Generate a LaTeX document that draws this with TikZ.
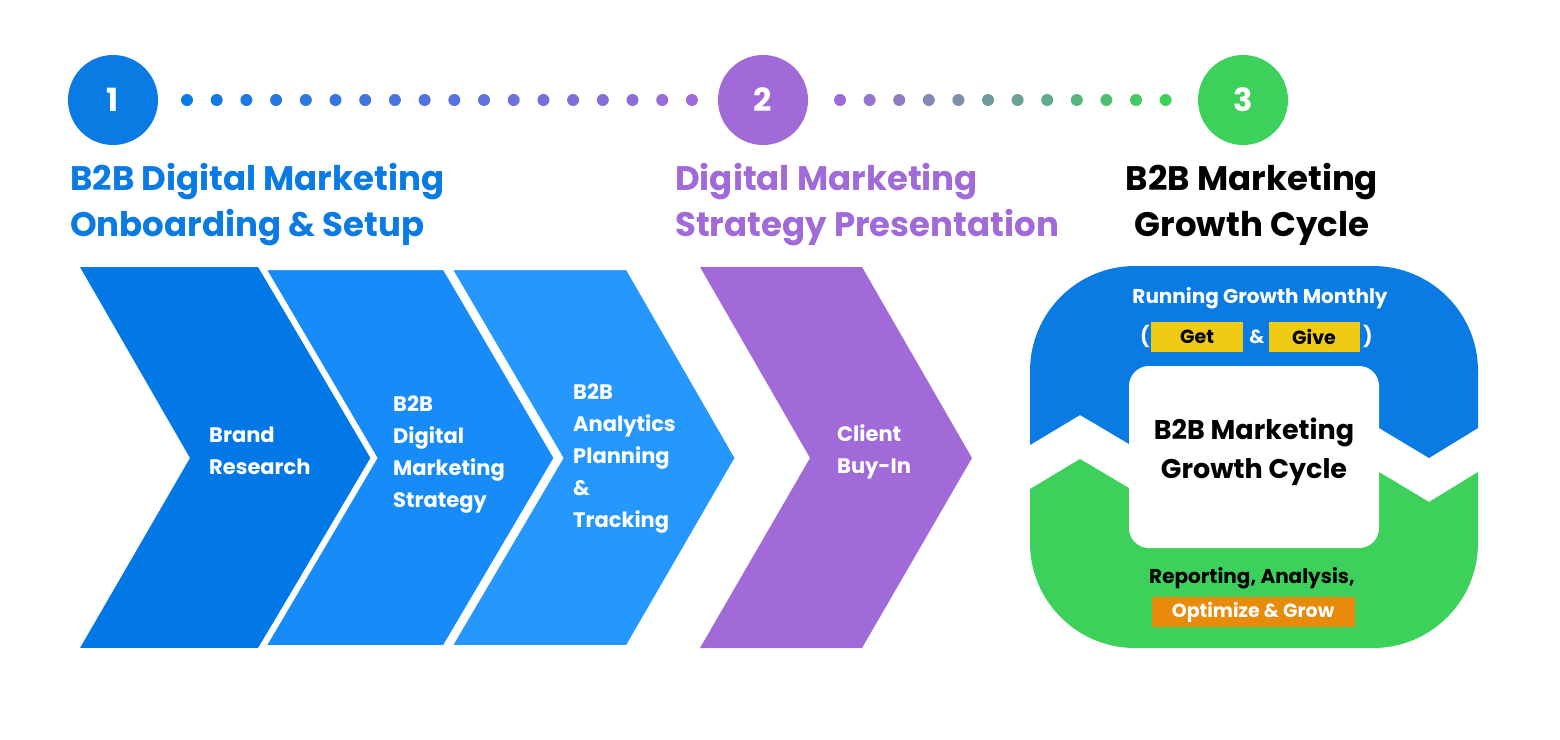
\documentclass[tikz,border=0pt]{standalone}
\usepackage{fontspec}
\setmainfont{Poppins}
\definecolor{cblue}{HTML}{0A7BE3}
\definecolor{ch1}{HTML}{0277E6}
\definecolor{ch2}{HTML}{178CF8}
\definecolor{ch3}{HTML}{2597FD}
\definecolor{cpur}{HTML}{A06BD9}
\definecolor{cgreen}{HTML}{3DD15B}
\definecolor{cyel}{HTML}{F0CB15}
\definecolor{corg}{HTML}{E88A0A}
\tikzset{
 num/.style={circle,minimum size=90pt,inner sep=0pt,text=white,font=\bfseries\fontsize{32}{32}\selectfont},
 title/.style={anchor=north west,align=left,inner sep=0pt,font=\bfseries\fontsize{34}{46}\selectfont},
 ctext/.style={anchor=west,align=left,inner sep=0pt,text=white,font=\bfseries\fontsize{21}{32}\selectfont},
 chev/.style={draw=white,line width=6pt,line join=miter},
 tag/.style={inner sep=0pt,minimum height=30pt,font=\bfseries\fontsize{19}{19}\selectfont}
}
\begin{document}
\begin{tikzpicture}[x=1pt,y=-1pt]
\useasboundingbox[fill=white] (0,0) rectangle (1560,739);
% dots
\foreach \i in {0,...,17}{
  \pgfmathsetmacro{\p}{100*\i/17}
  \fill[cblue!\fpeval{100-\p}!cpur] (187+29.7*\i,100) circle (6);
}
\foreach \i in {0,...,11}{
  \pgfmathsetmacro{\p}{100*\i/11}
  \fill[cpur!\fpeval{100-\p}!cgreen] (840+29.6*\i,100) circle (6);
}
\node[num,fill=cblue] (n1) at (113,100) {1};
\node[num,fill=cpur] (n2) at (763,100) {2};
\node[num,fill=cgreen] (n3) at (1243,100) {3};
\node[title,text=cblue] (t1) at (70,163) {B2B Digital Marketing\\Onboarding \& Setup};
\node[title,text=cpur] (t2) at (675,163) {Digital Marketing\\Strategy Presentation};
\node[title,text=black,align=center,anchor=north] (t3) at (1252,163) {B2B Marketing\\Growth Cycle};
% chevrons
\fill[ch1] (80,267) -- (190,458) -- (80,648) -- (258,648) -- (372,458) -- (258,267) -- cycle;
\filldraw[ch2,chev] (262,267) -- (374,458) -- (262,648) -- (445,648) -- (557,458) -- (445,267) -- cycle;
\filldraw[ch3,chev] (448,267) -- (560,458) -- (448,648) -- (628,648) -- (738,458) -- (628,267) -- cycle;
\fill[white] (75,262) rectangle (80,655);
\fill[white] (75,262) rectangle (745,267);
\fill[white] (75,648) rectangle (745,655);
\fill[cpur] (700,267) -- (810,458) -- (700,648) -- (862,648) -- (972,458) -- (862,267) -- cycle;
\node[ctext] (c1) at (209,451) {Brand\\Research};
\node[ctext] (c2) at (393,455) {B2B\\Digital\\Marketing\\Strategy};
\node[ctext] (c3) at (573,459) {B2B\\Analytics\\Planning\\\&\\Tracking};
\node[ctext] (c4) at (837,452) {Client\\Buy-In};
% growth cycle
\fill[cblue,rounded corners=105pt] (1030,445) -- (1030,266) -- (1478,266) [sharp corners] -- (1478,428) -- (1429,458) -- (1379,428) -- (1129,444) -- (1080,415) -- cycle;
\fill[cgreen,rounded corners=105pt] (1478,472) -- (1478,648) -- (1030,648) [sharp corners] -- (1030,489) -- (1080,459) -- (1129,488) -- (1379,472) -- (1429,502) -- cycle;
\node[fill=white,rounded corners=20pt,minimum width=250pt,minimum height=182pt] (box) at (1254,457) {};
\node[align=center,font=\bfseries\fontsize{27}{39}\selectfont] (bt) at (1254,452) {B2B Marketing\\Growth Cycle};
\node[text=white,font=\bfseries\fontsize{20}{20}\selectfont] (rg) at (1260,298) {Running Growth Monthly};
\node[tag,fill=cyel,minimum width=92pt] (get) at (1197,337) {Get};
\node[tag,fill=cyel,minimum width=91pt] (give) at (1314,337) {Give};
\node[text=white,font=\bfseries\fontsize{19}{19}\selectfont] (amp) at (1257,337) {\&};
\node[text=white,font=\bfseries\fontsize{20}{20}\selectfont] (lp) at (1145,336) {(};
\node[text=white,font=\bfseries\fontsize{20}{20}\selectfont] (rp) at (1368,336) {)};
\node[font=\bfseries\fontsize{20}{20}\selectfont] (rep) at (1252,578) {Reporting, Analysis,};
\node[tag,fill=corg,text=white,minimum width=203pt] (opt) at (1253,612) {Optimize \& Grow};
\end{tikzpicture}
\end{document}
